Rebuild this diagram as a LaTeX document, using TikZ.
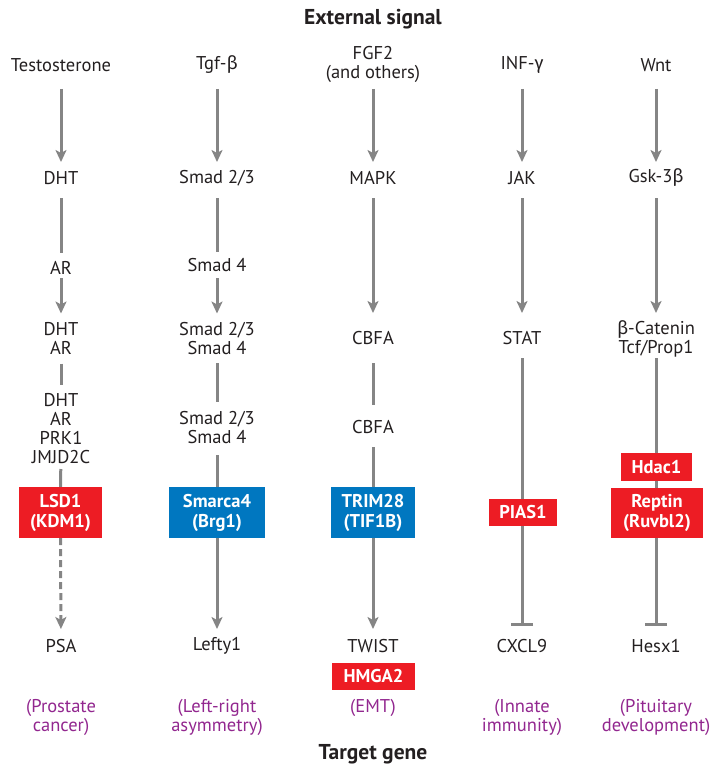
\documentclass[tikz,border=0pt]{standalone}
\usepackage{fontspec}
\setmainfont{PT Sans}
\newfontfamily\grkfont{Fira Sans}
\usetikzlibrary{arrows.meta}
\definecolor{ink}{HTML}{231F20}
\definecolor{conncol}{HTML}{858585}
\definecolor{redbox}{HTML}{ED1C24}
\definecolor{bluebox}{HTML}{0077C0}
\definecolor{purp}{HTML}{92278F}
\newcommand{\mybeta}{{\grkfont β}}
\newcommand{\mygamma}{{\grkfont γ}}
\begin{document}
\begin{tikzpicture}[x=1pt,y=-1pt,
  lbl/.style={inner sep=0pt, align=center, text=ink, font=\fontsize{18.5}{19}\selectfont},
  note/.style={lbl, text=purp},
  heading/.style={inner sep=0pt, text=ink, font=\fontsize{21.5}{22}\selectfont\bfseries},
  boxbase/.style={inner sep=0pt, align=center, text=white, font=\fontsize{18.5}{20}\selectfont\bfseries},
  redb/.style={boxbase, fill=redbox},
  blueb/.style={boxbase, fill=bluebox},
  link/.style={draw=conncol, line width=3pt},
  act/.style={link, -{Stealth[length=12pt, width=11pt, inset=3pt]}},
  inhib/.style={link, -{Bar[width=22pt]}},
]
\useasboundingbox (0,0) rectangle (711,765);

% headings
\node[heading] (top) at (373,19) {External signal};
\node[heading] (bottom) at (373,754) {Target gene};

% column 1
\node[lbl] (a1) at (61,65) {Testosterone};
\node[lbl] (a2) at (61,178) {DHT};
\node[lbl] (a3) at (61,268) {AR};
\node[lbl] (a4) at (61,338.5) {DHT\\AR};
\node[lbl] (a5) at (61,428.5) {DHT\\AR\\PRK1\\JMJD2C};
\node[lbl] (a7) at (61,646) {PSA};
\node[note] (a8) at (61,717.5) {(Prostate\\cancer)};

% column 2
\node[lbl] (b1) at (217,65) {Tgf-\mybeta};
\node[lbl] (b2) at (217,178) {Smad 2/3};
\node[lbl] (b3) at (217,265) {Smad 4};
\node[lbl] (b4) at (217,338.5) {Smad 2/3\\Smad 4};
\node[lbl] (b5) at (217,427.5) {Smad 2/3\\Smad 4};
\node[lbl] (b7) at (217,646) {Lefty1};
\node[note] (b8) at (217,717.5) {(Left-right\\asymmetry)};

% column 3
\node[lbl] (c1) at (373,64) {FGF2\\(and others)};
\node[lbl] (c2) at (373,178) {MAPK};
\node[lbl] (c3) at (373,338) {CBFA};
\node[lbl] (c4) at (373,427) {CBFA};
\node[lbl] (c7) at (373,646) {TWIST};
\node[note] (c8) at (373,708) {(EMT)};

% column 4
\node[lbl] (d1) at (522,65) {INF-\mygamma};
\node[lbl] (d2) at (522,178) {JAK};
\node[lbl] (d3) at (522,338) {STAT};
\node[lbl] (d7) at (522,646) {CXCL9};
\node[note] (d8) at (522,717.5) {(Innate\\immunity)};

% column 5
\node[lbl] (e1) at (656,65) {Wnt};
\node[lbl] (e2) at (656,178) {Gsk-3\mybeta};
\node[lbl] (e3) at (656,339) {\mybeta-Catenin\\Tcf/Prop1};
\node[lbl] (e7) at (656,646) {Hesx1};
\node[note] (e8) at (656,717.5) {(Pituitary\\development)};

% box positions (boxes drawn after the connectors)
\path (60.5,512.5) coordinate (a6c) (217,512.5) coordinate (b6c)
      (373,512.5) coordinate (c6c) (523,512.5) coordinate (d6c)
      (657,513) coordinate (e6c) (656.5,467) coordinate (e5c)
      (373.5,676) coordinate (c9c);

% connectors column 1
\draw[act, shorten <=24pt, shorten >=16pt] (a1.center) -- (a2.center);
\draw[link, shorten <=20pt, shorten >=15pt] (a2.center) -- (a3.center);
\draw[act, shorten <=10pt, shorten >=25pt] (a3.center) -- (a4.center);
\draw[link, shorten <=25pt, shorten >=43.5pt] (a4.center) -- (a5.center);
\draw[link, shorten <=40.5pt] (a5.center) -- (a6c);

% connectors column 2
\draw[act, shorten <=24pt, shorten >=16pt] (b1.center) -- (b2.center);
\draw[link, shorten <=20pt, shorten >=13pt] (b2.center) -- (b3.center);
\draw[act, shorten <=13pt, shorten >=25pt] (b3.center) -- (b4.center);
\draw[link, shorten <=24.5pt, shorten >=25.5pt] (b4.center) -- (b5.center);
\draw[link, shorten <=27.5pt] (b5.center) -- (b6c);

% connectors column 3
\draw[act, shorten <=25pt, shorten >=16pt] (c1.center) -- (c2.center);
\draw[act, shorten <=20pt, shorten >=25pt] (c2.center) -- (c3.center);
\draw[link, shorten <=25pt, shorten >=22pt] (c3.center) -- (c4.center);
\draw[link, shorten <=20pt] (c4.center) -- (c6c);

% connectors column 4
\draw[act, shorten <=24pt, shorten >=16pt] (d1.center) -- (d2.center);
\draw[act, shorten <=20pt, shorten >=25pt] (d2.center) -- (d3.center);
\draw[inhib, shorten <=20pt, shorten >=20pt] (d3.center) -- (d7.center);

% connectors column 5
\draw[act, shorten <=24pt, shorten >=16pt] (e1.center) -- (e2.center);
\draw[act, shorten <=20pt, shorten >=26pt] (e2.center) -- (e3.center);
\draw[inhib, shorten <=19pt, shorten >=20pt] (e3.center) -- (e7.center);

% coloured boxes
\node[redb, minimum width=83pt, minimum height=51pt] (a6) at (a6c) {LSD1\\(KDM1)};
\node[blueb, minimum width=96pt, minimum height=51pt] (b6) at (b6c) {Smarca4\\(Brg1)};
\node[blueb, minimum width=84pt, minimum height=51pt] (c6) at (c6c) {TRIM28\\(TIF1B)};
\node[redb, minimum width=68pt, minimum height=27pt] (d6) at (d6c) {PIAS1};
\node[redb, minimum width=71pt, minimum height=28pt] (e5) at (e5c) {Hdac1};
\node[redb, minimum width=92pt, minimum height=50pt] (e6) at (e6c) {Reptin\\(Ruvbl2)};
\node[redb, minimum width=83pt, minimum height=27pt] (c9) at (c9c) {HMGA2};

% connectors from boxes to target genes
\draw[act, dash pattern=on 7pt off 4pt, shorten >=17pt] (a6.south) -- (a7.center);
\draw[act, shorten >=17pt] (b6.south) -- (b7.center);
\draw[act, shorten >=17pt] (c6.south) -- (c7.center);
\end{tikzpicture}
\end{document}
